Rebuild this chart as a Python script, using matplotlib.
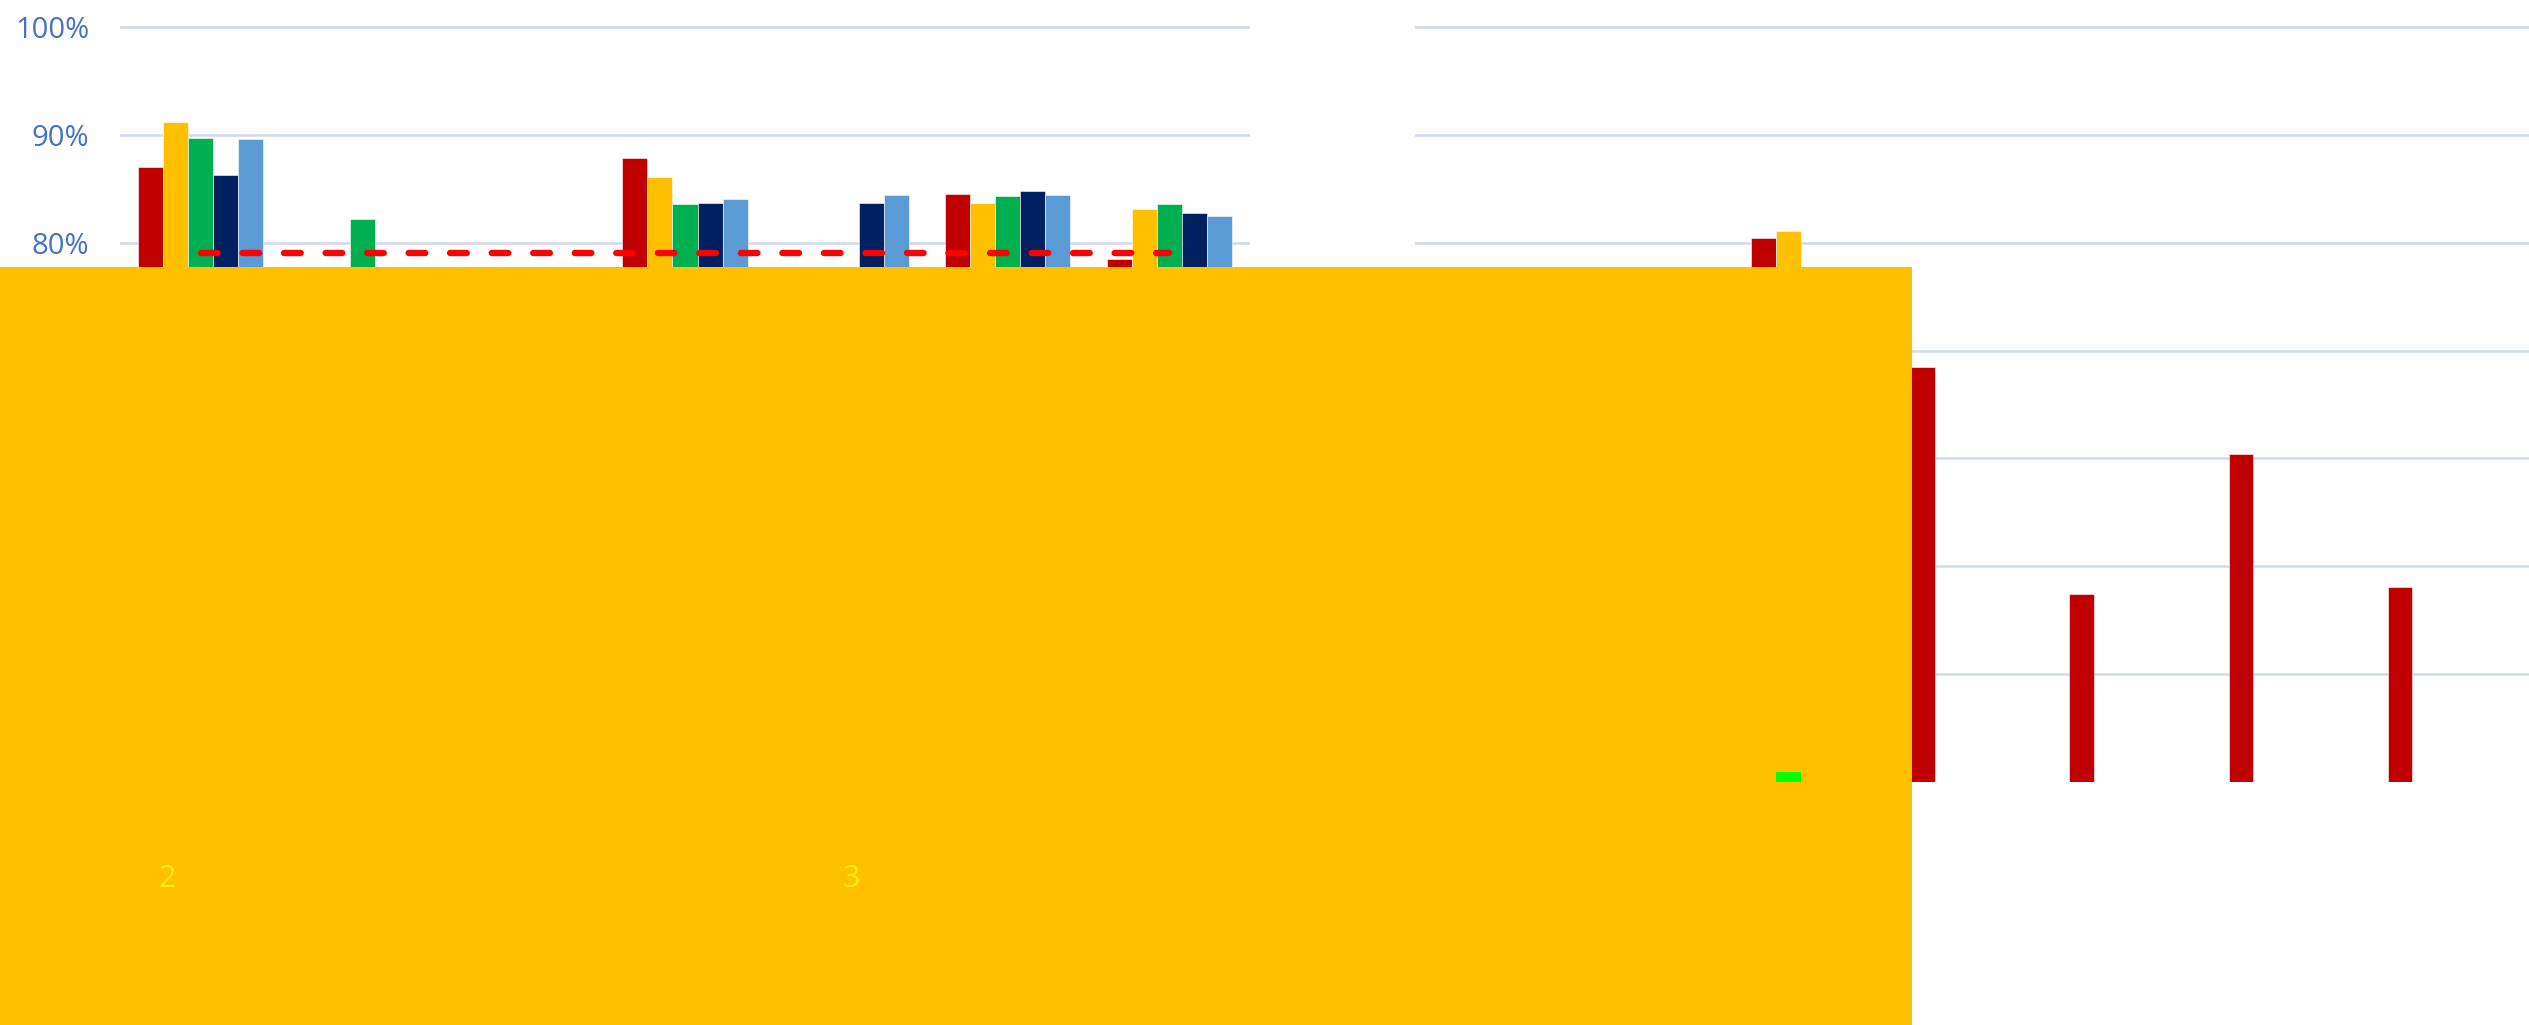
import numpy as np
import matplotlib.pyplot as plt
from matplotlib.patches import Rectangle

nan = np.nan

# Series order inside each group
series_colors = ['#C00000', '#FFC000', '#00B050', '#002060', '#5B9BD5']

# Left panel, 7 categories (values hidden under the yellow block are left out)
left_red = [0.870, nan, nan, 0.878, nan, 0.845, 0.785]
left_yellow = [0.912, nan, nan, 0.861, nan, 0.837, 0.831]
left_green = [0.897, 0.822, nan, 0.836, nan, 0.843, 0.836]
left_navy = [0.863, nan, nan, 0.837, 0.837, 0.848, 0.827]
left_blue = [0.896, nan, nan, 0.840, 0.844, 0.844, 0.825]
target = [0.79] * 7

# Right panel, 7 categories
right_red = [nan, nan, 0.804, 0.685, 0.474, 0.604, 0.481]
right_yellow = [nan, nan, 0.811, nan, nan, nan, nan]
right_green = [nan, nan, nan, nan, nan, nan, nan]
right_navy = [nan, nan, nan, nan, nan, nan, nan]
right_blue = [nan, nan, nan, nan, nan, nan, nan]
marker_value = 0.31  # small lime bar, category 2, drawn over the block

tick_values = [0.4, 0.5, 0.6, 0.7, 0.8, 0.9, 1.0]
tick_labels = ['40%', '50%', '60%', '70%', '80%', '90%', '100%']
block_labels = ['2', '3']

W, H = 2529, 1025
fig = plt.figure(figsize=(W / 100, H / 100), dpi=100)
plt.rcParams['font.family'] = ['Open Sans', 'DejaVu Sans']

bottom = 1 - 782.3 / H
height = (782.3 - 15.9) / H
ax_l = fig.add_axes([120 / W, bottom, 1130 / W, height])
ax_r = fig.add_axes([1415 / W, bottom, 1114 / W, height])

width = 0.155
x = np.arange(7)


def draw_panel(ax, groups):
    for i, (vals, color) in enumerate(zip(groups, series_colors)):
        ax.bar(x + (i - 2) * width, vals, width, color=color,
               edgecolor='white', linewidth=0.4, zorder=2)
    ax.set_xlim(-0.5, 6.5)
    ax.set_ylim(0.30, 1.01)
    ax.set_yticks(tick_values)
    ax.grid(axis='y', color='#D0DAEF', linewidth=1.8, zorder=0)
    ax.set_axisbelow(True)
    ax.set_xticks([])
    for s in ax.spines.values():
        s.set_visible(False)
    ax.tick_params(axis='y', length=0)


draw_panel(ax_l, [left_red, left_yellow, left_green, left_navy, left_blue])
ax_l.set_yticklabels(tick_labels, color='#4472C4', fontsize=21)
ax_l.tick_params(axis='y', pad=22)
ax_l.plot(x, target, color='#FF0000', linewidth=4.6, linestyle=(0, (2.6, 3.9)),
          dash_capstyle='round', zorder=3)

draw_panel(ax_r, [right_red, right_yellow, right_green, right_navy, right_blue])
ax_r.set_yticklabels([])

# Yellow block laid over the lower part of the figure
fig.add_artist(Rectangle((0, 0), 1912 / W, 1 - 267 / H, transform=fig.transFigure,
                         facecolor='#FFC000', edgecolor='none', zorder=5))

# Lime bar sits on top of the block
fig.add_artist(Rectangle((2 - 1.5 * width, 0.30), width, marker_value - 0.30,
                         transform=ax_r.transData, facecolor='#00FF00',
                         edgecolor='none', zorder=6))

for label, px in zip(block_labels, [167, 851]):
    fig.text(px / W, 1 - 879 / H, label, ha='center', va='center',
             color='#FFEE00', fontsize=22, zorder=7)

fig.savefig('out.png', dpi=100, facecolor='white')
